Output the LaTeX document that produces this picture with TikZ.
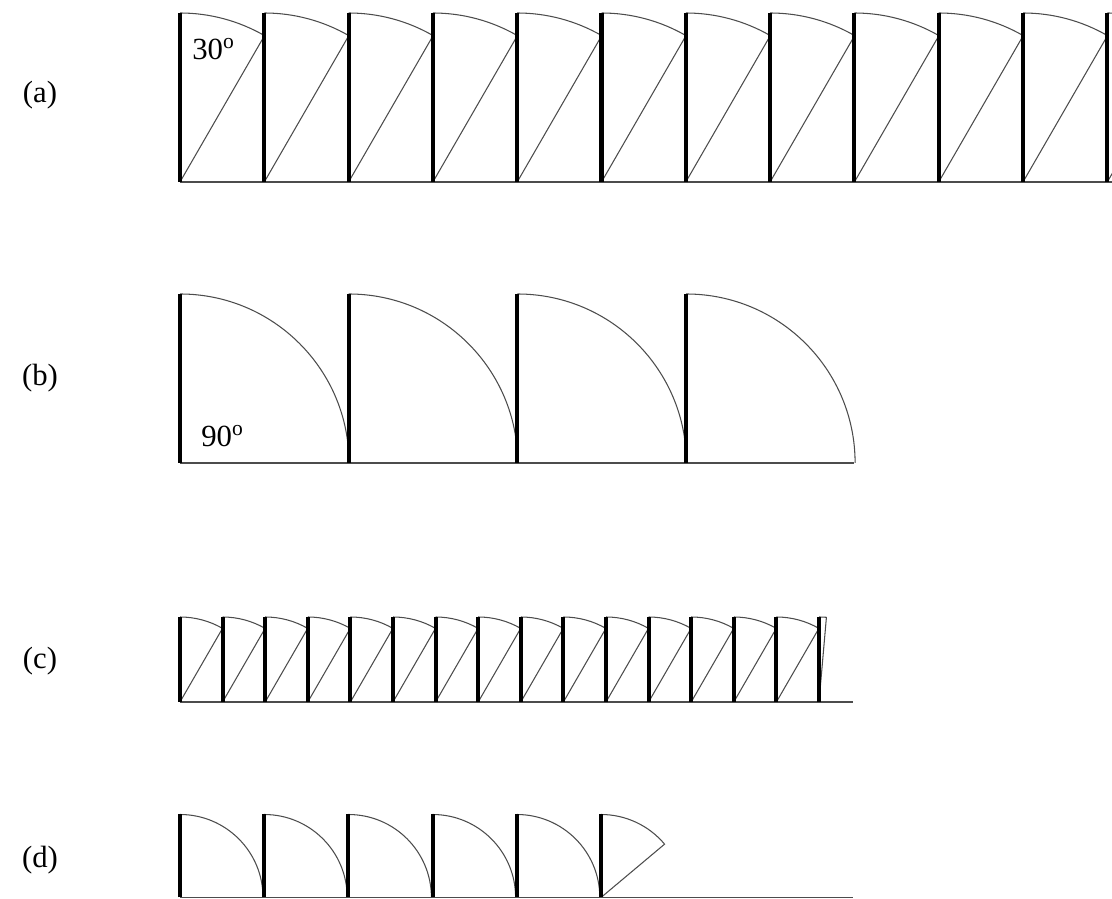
\documentclass[tikz,border=0pt]{standalone}
\usepackage{fontspec}
\setmainfont{Liberation Serif}
\usetikzlibrary{positioning}

\begin{document}
\begin{tikzpicture}[
            x=0.02cm, y=0.02cm,
            wall/.style={line width=2.3pt, line cap=butt},
            leaf/.style={line width=0.6pt, draw=black!70},
            tag/.style={font=\fontsize{17.5}{20}\selectfont, inner sep=0pt},
            angle/.style={font=\fontsize{17.5}{20}\selectfont, inner sep=0pt, anchor=base west}
        ]
        \useasboundingbox (0,0) rectangle (1112,899);
        \clip (0,0) rectangle (1112,899);
        \node[tag] (rowa) at (40,804) {(a)};
        \node[tag] (rowb) at (40,521) {(b)};
        \node[tag] (rowc) at (40,238) {(c)};
        \node[tag] (rowd) at (40,39) {(d)};
        \draw[leaf] (180,717) -- (1112,717);
        \foreach \i in {0,...,11} {
            \draw[leaf] (180+\i*84.3,886) arc[start angle=90, end angle=60, radius=169] -- (180+\i*84.3,717);
            \draw[wall] (180+\i*84.3,717) -- ++(0,169);
        }
        \node[angle] (deg30) at (192,839) {30\textsuperscript{o}};
        \draw[leaf] (180,436) -- (854,436);
        \foreach \i in {0,...,3} {
            \draw[leaf] (180+\i*168.7,605) arc[start angle=90, end angle=0, radius=169];
            \draw[wall] (180+\i*168.7,436) -- ++(0,169);
        }
        \node[angle] (deg90) at (201,452) {90\textsuperscript{o}};
        \draw[leaf] (180,197) -- (853,197);
        \foreach \i in {0,...,14} {
            \draw[leaf] (180+\i*42.6,282) arc[start angle=90, end angle=60, radius=85] -- (180+\i*42.6,197);
            \draw[wall] (180+\i*42.6,197) -- ++(0,85);
        }
        \draw[leaf] (819,282) arc[start angle=90, end angle=85, radius=85] -- (819,197);
        \draw[wall] (819,197) -- ++(0,85);
        \draw[leaf] (180,1.5) -- (853,1.5);
        \foreach \i in {0,...,4} {
            \draw[leaf] (180+\i*84.2,84.5) arc[start angle=90, end angle=0, radius=83];
            \draw[wall] (180+\i*84.2,1.5) -- ++(0,83);
        }
        \draw[leaf] (601,84.5) arc[start angle=90, end angle=40, radius=83] -- (601,1.5);
        \draw[wall] (601,1.5) -- ++(0,83);
\end{tikzpicture}
\end{document}
